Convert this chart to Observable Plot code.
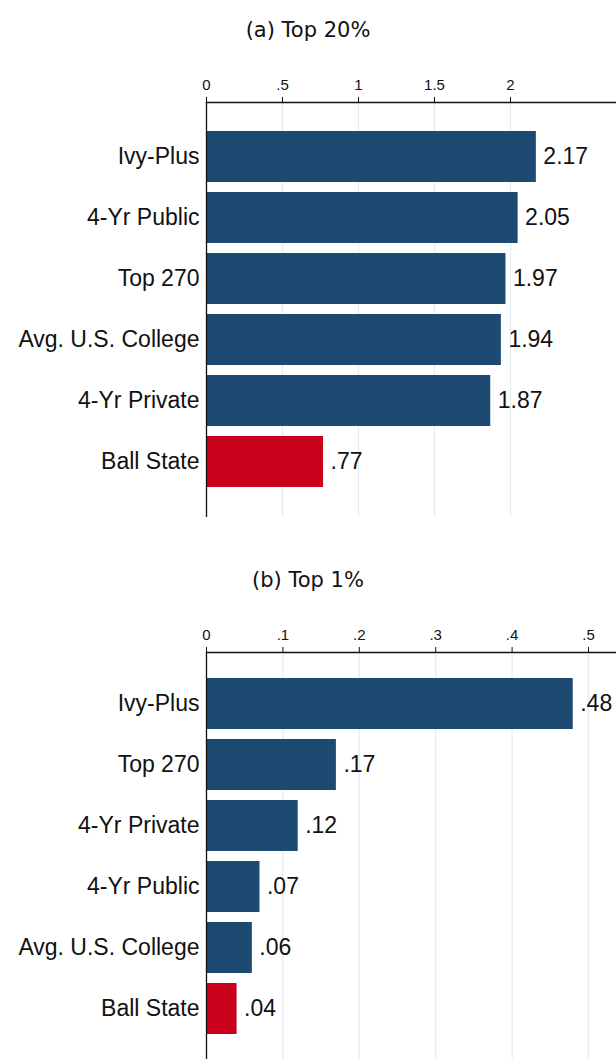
<!DOCTYPE html>
<html>
<head>
<meta charset="utf-8">
<script src="https://cdn.jsdelivr.net/npm/d3@7"></script>
<script src="https://cdn.jsdelivr.net/npm/@observablehq/plot@0.6"></script>
<style>
  html, body { margin: 0; padding: 0; background: #fff; width: 616px; overflow: hidden; }
  .title { font-family: "DejaVu Sans", sans-serif; font-size: 21px; color: #111; text-align: center; padding-left: 0; }
  svg { display: block; }
</style>
</head>
<body>
<div id="a-title" class="title" style="height:60px;line-height:60px;">(a) Top 20%</div>
<div id="a"></div>
<div id="b-title" class="title" style="height:70px;line-height:100px;">(b) Top 1%</div>
<div id="b"></div>
<script>
// Panel (a): Top 20%
const catsA = ["Ivy-Plus", "4-Yr Public", "Top 270", "Avg. U.S. College", "4-Yr Private", "Ball State"];
const valsA = [2.17, 2.05, 1.97, 1.94, 1.87, 0.77];
const ticksA = [0, 0.5, 1, 1.5, 2];

// Panel (b): Top 1%
const catsB = ["Ivy-Plus", "Top 270", "4-Yr Private", "4-Yr Public", "Avg. U.S. College", "Ball State"];
const valsB = [0.48, 0.17, 0.12, 0.07, 0.06, 0.04];
const ticksB = [0, 0.1, 0.2, 0.3, 0.4, 0.5];

const highlight = "Ball State";
const navy = "#1d4a72";
const red = "#c90019";

const fmt = d => d === 0 ? "0" : String(+d.toFixed(2)).replace(/^0\./, ".");

function panel(cats, vals, ticks, xmax, marginTop, height, marginBottom, shift) {
  const data = cats.map((c, i) => ({cat: c, v: vals[i]}));
  const r0 = marginTop + shift, r1 = marginTop + shift + 415;
  return Plot.plot({
    width: 616,
    height,
    marginTop,
    marginBottom,
    marginLeft: 206,
    marginRight: 0,
    style: {fontFamily: "'Liberation Sans', Arial, sans-serif", background: "#fff"},
    x: {domain: [0, xmax], ticks, tickFormat: fmt},
    y: {domain: cats, range: [r0, r1], paddingInner: 0.157, paddingOuter: 0.44},
    marks: [
      Plot.ruleX(ticks.slice(1), {stroke: "#e3ecf0", strokeWidth: 1.2}),
      Plot.barX(data, {x: "v", y: "cat", fill: d => d.cat === highlight ? red : navy}),
      Plot.text(data, {x: "v", y: "cat", text: d => fmt(d.v), textAnchor: "start", dx: 7, fontSize: 23, fill: "#111"}),
      Plot.axisX({anchor: "top", ticks, tickFormat: fmt, tickSize: 6, tickPadding: 7, fontSize: 15, stroke: "#111", color: "#111", label: null}),
      Plot.frame({anchor: "top", stroke: "#111", strokeWidth: 1.3}),
      Plot.ruleX([0], {stroke: "#111", strokeWidth: 1.3}),
      Plot.axisY({tickSize: 0, tickPadding: 7, fontSize: 23, color: "#111", label: null})
    ]
  });
}

document.getElementById("a").append(panel(catsA, valsA, ticksA, 410/152, 42, 470, 13, 0));
document.getElementById("b").append(panel(catsB, valsB, ticksB, 410/764, 52, 459, 0, -3));
</script>
</body>
</html>
